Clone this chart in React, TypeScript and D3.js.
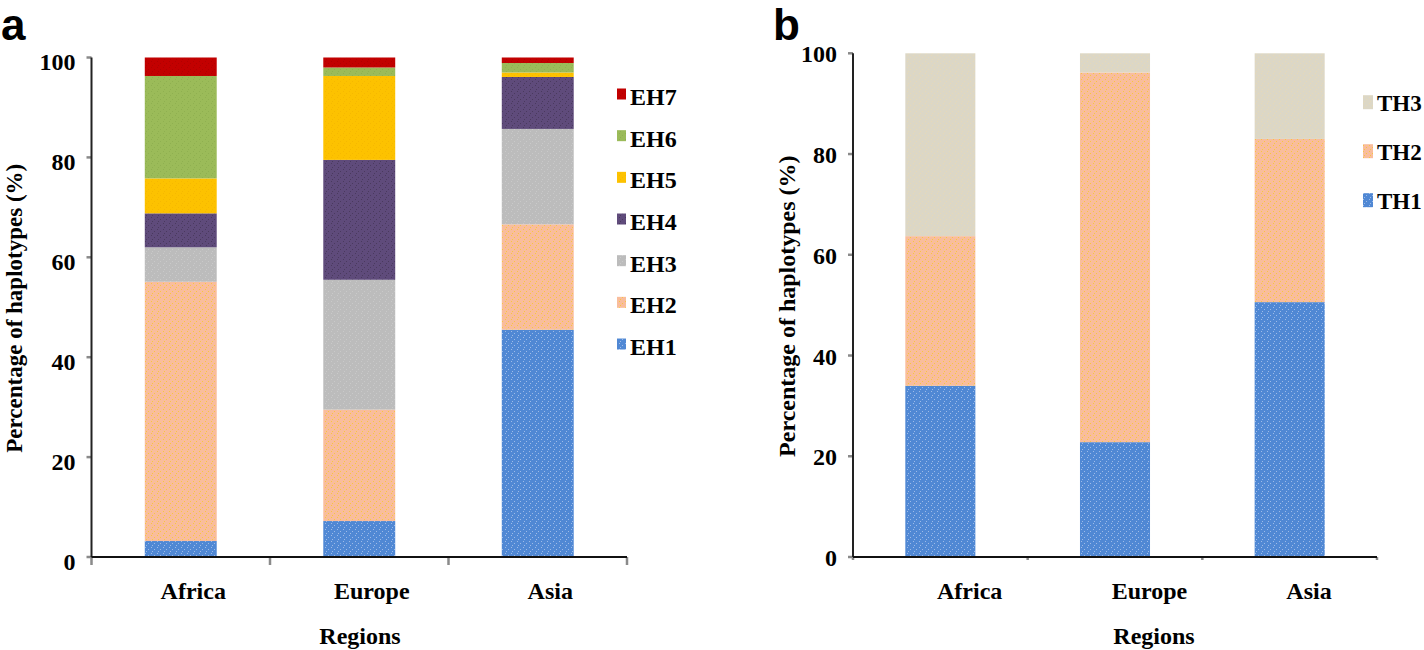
import React from "react";
import * as d3 from "d3";

const regions = ["Africa", "Europe", "Asia"];

// Panel a: exon haplotypes (%)
const ehKeys = ["EH1", "EH2", "EH3", "EH4", "EH5", "EH6", "EH7"];
const EH1 = [3.2, 7.2, 45.5];
const EH2 = [51.9, 22.3, 21.1];
const EH3 = [6.9, 26.0, 19.1];
const EH4 = [6.8, 24.0, 10.4];
const EH5 = [7.0, 16.8, 0.9];
const EH6 = [20.5, 1.7, 1.9];
const EH7 = [3.7, 2.0, 1.1];

// Panel b: haplotypes (%)
const thKeys = ["TH1", "TH2", "TH3"];
const TH1 = [34.0, 22.8, 50.6];
const TH2 = [29.7, 73.4, 32.4];
const TH3 = [36.3, 3.8, 17.0];

const yTicks = [0, 20, 40, 60, 80, 100];

const colors: Record<string, { base: string; dot: string }> = {
  EH1: { base: "#5088d4", dot: "#9dbbe8" },
  EH2: { base: "#f9bd9c", dot: "#f7c640" },
  EH3: { base: "#bcbcbc", dot: "#c9c9c9" },
  EH4: { base: "#5f4b7b", dot: "#4a3a5e" },
  EH5: { base: "#fdc200", dot: "#f6b800" },
  EH6: { base: "#9bbb59", dot: "#8fb050" },
  EH7: { base: "#c20000", dot: "#b00000" },
  TH1: { base: "#5088d4", dot: "#9dbbe8" },
  TH2: { base: "#f9bd9c", dot: "#f7c640" },
  TH3: { base: "#dcd7c6", dot: "#e6d9b8" },
};

const serif = "'Liberation Serif', 'Times New Roman', serif";
const sans = "'Liberation Sans', Arial, sans-serif";

function rows(keys: string[], series: number[][]) {
  return regions.map((r, i) => {
    const o: any = { region: r };
    keys.forEach((k, j) => (o[k] = series[j][i]));
    return o;
  });
}

type PanelProps = {
  keys: string[];
  series: number[][];
  x0: number;
  x1: number;
  yTop: number;
  yBottom: number;
  pad: number;
  labelMode: "middle" | "start";
  labelOffset: number;
  tickDy: number;
  titleX: number;
  titleSize: number;
  regionsX: number;
  legendX: number;
  legendY0: number;
  legendStep: number;
  legendSq: [number, number];
  legendSqDy: number;
  legendSize: number;
  xTickLen: number;
};

function Panel(p: PanelProps) {
  const data = rows(p.keys, p.series);
  const stack = d3.stack<any>().keys(p.keys)(data);
  const x = d3
    .scaleBand<string>()
    .domain(regions)
    .range([p.x0, p.x1])
    .paddingInner(p.pad)
    .paddingOuter(p.pad / 2);
  const y = d3.scaleLinear().domain([0, 100]).range([p.yBottom, p.yTop]);
  const step = x.step();
  const bounds = d3.range(regions.length + 1).map((i) => p.x0 + i * step);
  const legendOrder = [...p.keys].reverse();
  return (
    <g>
      {stack.map((s) => (
        <g key={s.key} fill={`url(#pat-${s.key})`}>
          {s.map((d, i) => (
            <rect
              key={i}
              x={x(regions[i])}
              width={x.bandwidth()}
              y={y(d[1])}
              height={Math.max(0, y(d[0]) - y(d[1]))}
            />
          ))}
        </g>
      ))}
      {yTicks.map((t) => (
        <g key={t}>
          <line x1={p.x0 - 5} x2={p.x0} y1={y(t)} y2={y(t)} stroke="#8a8a8a" strokeWidth={2.5} />
          <text
            x={p.x0 - 16}
            y={y(t) + p.tickDy}
            textAnchor="end"
            fontFamily={serif}
            fontWeight="bold"
            fontSize={24}
          >
            {t}
          </text>
        </g>
      ))}
      {bounds.map((b, i) => (
        <line key={i} x1={b} x2={b} y1={p.yBottom} y2={p.yBottom + p.xTickLen} stroke="#8a8a8a" strokeWidth={2.5} />
      ))}
      <line x1={p.x0} x2={p.x0} y1={p.yTop} y2={p.yBottom} stroke="#222" strokeWidth={2} />
      <line x1={p.x0} x2={p.x1} y1={p.yBottom} y2={p.yBottom} stroke="#111" strokeWidth={2} />
      {regions.map((r) => (
        <text
          key={r}
          x={
            p.labelMode === "middle"
              ? (x(r) as number) + x.bandwidth() / 2 + p.labelOffset
              : (x(r) as number) - (x.step() * p.pad) / 2 + p.labelOffset
          }
          y={599}
          textAnchor={p.labelMode}
          fontFamily={serif}
          fontWeight="bold"
          fontSize={24}
        >
          {r}
        </text>
      ))}
      <text x={p.regionsX} y={644} textAnchor="middle" fontFamily={serif} fontWeight="bold" fontSize={24}>
        Regions
      </text>
      <text
        transform={`translate(${p.titleX},${(p.yTop + p.yBottom) / 2 + 1}) rotate(-90)`}
        textAnchor="middle"
        fontFamily={serif}
        fontWeight="bold"
        fontSize={p.titleSize}
      >
        Percentage of haplotypes (%)
      </text>
      {legendOrder.map((k, i) => {
        const by = p.legendY0 + i * p.legendStep;
        return (
          <g key={k}>
            <rect
              x={p.legendX - p.legendSq[0] - 4}
              y={by - p.legendSqDy}
              width={p.legendSq[0]}
              height={p.legendSq[1]}
              fill={`url(#pat-${k})`}
            />
            <text x={p.legendX} y={by} fontFamily={serif} fontWeight="bold" fontSize={p.legendSize}>
              {k}
            </text>
          </g>
        );
      })}
    </g>
  );
}

export default function App() {
  const allKeys = [...ehKeys, ...thKeys];
  return (
    <svg
      width={1424}
      height={650}
      style={{ position: "absolute", left: 0, top: 0, background: "#fff" }}
    >
      <defs>
        {allKeys.map((k) => (
          <pattern key={k} id={`pat-${k}`} width={6} height={6} patternUnits="userSpaceOnUse">
            <rect width={6} height={6} fill={colors[k].base} />
            <rect x={1} y={1} width={1} height={1} fill={colors[k].dot} />
            <rect x={4} y={3} width={1} height={1} fill={colors[k].dot} />
            <rect x={2} y={5} width={1} height={1} fill={colors[k].dot} />
          </pattern>
        ))}
      </defs>
      <rect width={1424} height={650} fill="#fff" />
      <text x={1} y={40} fontFamily={sans} fontWeight="bold" fontSize={44}>
        a
      </text>
      <text x={773} y={40} fontFamily={sans} fontWeight="bold" fontSize={44}>
        b
      </text>
      <Panel
        keys={ehKeys}
        series={[EH1, EH2, EH3, EH4, EH5, EH6, EH7]}
        x0={91.5}
        x1={627}
        yTop={57.5}
        yBottom={557}
        pad={0.597}
        labelMode="middle"
        labelOffset={12.5}
        tickDy={12.5}
        titleX={22}
        titleSize={23}
        regionsX={360}
        legendX={630}
        legendY0={105}
        legendStep={41.67}
        legendSq={[9, 11]}
        legendSqDy={16.5}
        legendSize={24}
        xTickLen={8}
      />
      <Panel
        keys={thKeys}
        series={[TH1, TH2, TH3]}
        x0={853}
        x1={1377}
        yTop={53.3}
        yBottom={557}
        pad={0.599}
        labelMode="start"
        labelOffset={84}
        tickDy={9}
        titleX={795}
        titleSize={24}
        regionsX={1154}
        legendX={1377}
        legendY0={110.7}
        legendStep={49}
        legendSq={[10, 14]}
        legendSqDy={15.5}
        legendSize={23}
        xTickLen={3}
      />
    </svg>
  );
}
